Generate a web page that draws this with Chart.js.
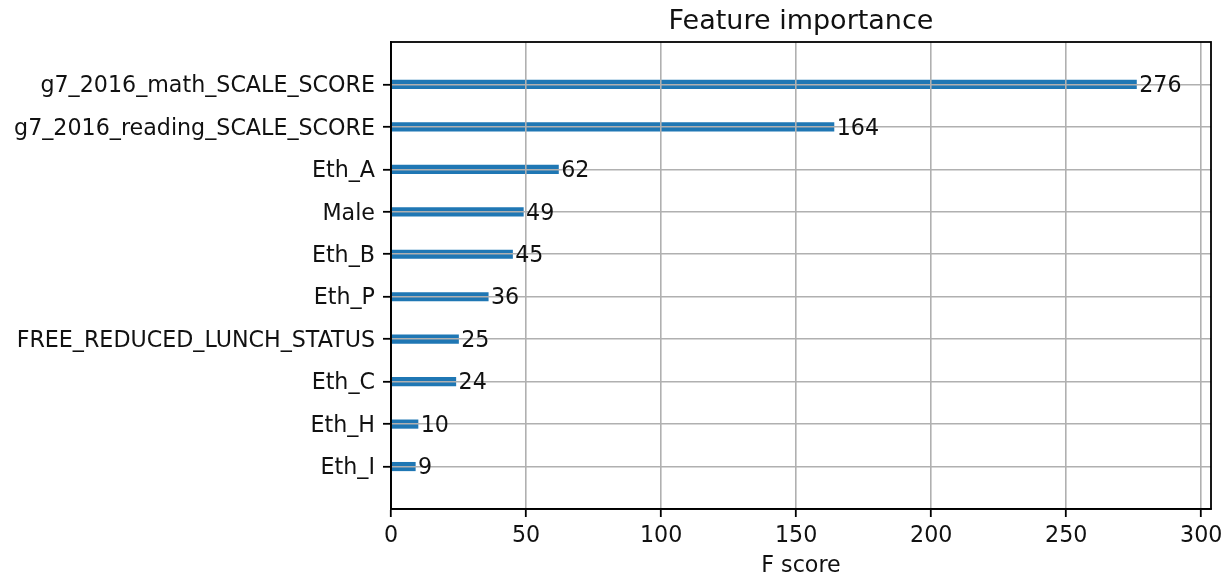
<!DOCTYPE html>
<html>
<head>
<meta charset="utf-8">
<title>Feature importance</title>
<script src="https://cdn.jsdelivr.net/npm/chart.js@4/dist/chart.umd.min.js"></script>
<style>
  html, body { margin: 0; padding: 0; background: #ffffff; }
  #wrap { width: 1230px; height: 581px; }
</style>
</head>
<body>
<div id="wrap"><canvas id="chart" width="1230" height="581"></canvas></div>
<script>
// Features listed top to bottom, with their F scores
const features = [
  'g7_2016_math_SCALE_SCORE',
  'g7_2016_reading_SCALE_SCORE',
  'Eth_A',
  'Male',
  'Eth_B',
  'Eth_P',
  'FREE_REDUCED_LUNCH_STATUS',
  'Eth_C',
  'Eth_H',
  'Eth_I'
];
const fScores = [276, 164, 62, 49, 45, 36, 25, 24, 10, 9];
const xTicks = [0, 50, 100, 150, 200, 250, 300];

const FONT = "'DejaVu Sans', 'Liberation Sans', sans-serif";
const LABEL_SIZE = 22.2;
const n = features.length;
// position 0 is the bottom row, as in a matplotlib barh
const points = features.map((f, i) => ({ x: fScores[i], y: n - 1 - i }));
const nameAtPos = {};
features.forEach((f, i) => { nameAtPos[n - 1 - i] = f; });
const xMax = Math.max(...fScores) * 1.1;

// frame, title and value labels, drawn above the grid
const frameAndText = {
  id: 'frameAndText',
  afterDraw(chart) {
    const { ctx, chartArea: a, scales } = chart;
    ctx.save();
    // full box around the plot area
    ctx.strokeStyle = '#000000';
    ctx.lineWidth = 1.8;
    ctx.strokeRect(a.left, a.top, a.right - a.left, a.bottom - a.top);
    // value labels just right of each bar
    ctx.font = LABEL_SIZE + 'px ' + FONT;
    ctx.fillStyle = '#111111';
    ctx.textAlign = 'left';
    ctx.textBaseline = 'middle';
    points.forEach(p => {
      ctx.fillText(String(p.x), scales.x.getPixelForValue(p.x + 1), scales.y.getPixelForValue(p.y) + 2);
    });
    // title centred over the plot area
    ctx.font = '27px ' + FONT;
    ctx.textAlign = 'center';
    ctx.textBaseline = 'alphabetic';
    ctx.fillText('Feature importance', (a.left + a.right) / 2, 29);
    ctx.restore();
  }
};

new Chart(document.getElementById('chart'), {
  type: 'bar',
  data: {
    datasets: [{
      data: points,
      backgroundColor: '#1f77b4',
      borderWidth: 0,
      barThickness: 8.5
    }]
  },
  options: {
    indexAxis: 'y',
    responsive: false,
    animation: false,
    devicePixelRatio: 1,
    layout: { padding: { left: 0, right: 19, top: 42, bottom: 0 } },
    plugins: {
      legend: { display: false },
      tooltip: { enabled: false },
      title: { display: false }
    },
    scales: {
      x: {
        type: 'linear',
        min: 0,
        max: xMax,
        afterBuildTicks(scale) { scale.ticks = xTicks.map(v => ({ value: v })); },
        afterFit(scale) { scale.height = 72; },
        grid: {
          z: 1,
          color: '#b0b0b0',
          lineWidth: 1.6,
          tickColor: '#000000',
          tickWidth: 1.8,
          tickLength: 8,
          drawTicks: true
        },
        border: { display: true, color: '#000000', width: 1.8, z: 2 },
        ticks: {
          padding: 6,
          color: '#111111',
          font: { family: FONT, size: LABEL_SIZE },
          maxRotation: 0
        },
        title: {
          display: true,
          text: 'F score',
          color: '#111111',
          font: { family: FONT, size: LABEL_SIZE },
          padding: { top: 0, bottom: 1 }
        }
      },
      y: {
        type: 'linear',
        min: -1,
        max: n,
        offset: false,
        afterBuildTicks(scale) { scale.ticks = features.map((f, i) => ({ value: i })); },
        afterFit(scale) { scale.width = 391; },
        grid: {
          z: 1,
          offset: false,
          color: '#b0b0b0',
          lineWidth: 1.6,
          tickColor: '#000000',
          tickWidth: 1.8,
          tickLength: 8
        },
        border: { display: true, color: '#000000', width: 1.8, z: 2 },
        ticks: {
          padding: 8,
          labelOffset: 2,
          color: '#111111',
          font: { family: FONT, size: LABEL_SIZE },
          callback: v => nameAtPos[v] || ''
        }
      }
    }
  },
  plugins: [frameAndText]
});
</script>
</body>
</html>
